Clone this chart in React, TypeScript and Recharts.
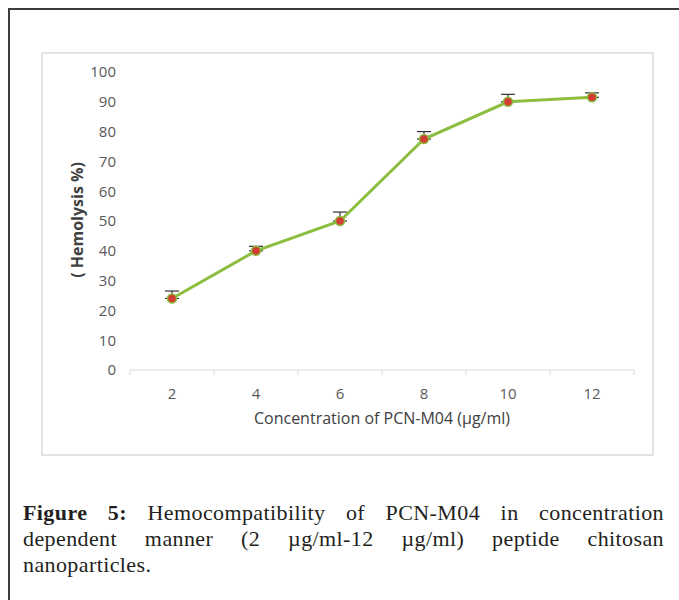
import * as React from 'react';
import { LineChart, Line, XAxis, YAxis, ErrorBar, Label } from 'recharts';

const concentrations = [2, 4, 6, 8, 10, 12];
const hemolysis = [24, 40, 50, 77.5, 90, 91.5];
const errorUp = [2.5, 1.5, 3, 2.5, 2.5, 1.5];
const yTicks = [0, 10, 20, 30, 40, 50, 60, 70, 80, 90, 100];
const xTicks = [1, 2, 3, 4, 5, 6, 7, 8, 9, 10, 11, 12, 13];

const data = concentrations.map((c, i) => ({
  conc: c,
  hemolysis: hemolysis[i],
  err: [0, errorUp[i]],
}));

const axisFont = '"Open Sans", sans-serif';

function XTick(props: any) {
  const { x, y, payload } = props;
  // odd values sit between categories: draw a short tick there, label the even ones
  if (payload.value % 2 === 1) {
    return <line x1={x} x2={x} y1={y - 18} y2={y - 13} stroke="#d9d9d9" strokeWidth={1} />;
  }
  return (
    <text x={x} y={y} dy="0.71em" textAnchor="middle" fill="#595959" fontSize={15} fontFamily={axisFont}>
      {payload.value}
    </text>
  );
}

export default function App() {
  return (
    <div style={{ position: 'absolute', left: 0, top: 0, width: 679, height: 600, overflow: 'hidden', background: '#fff' }}>
      <div
        style={{
          position: 'absolute',
          left: 8,
          top: 8,
          width: 700,
          height: 620,
          borderLeft: '2px solid #3c3c3c',
          borderTop: '2px solid #3c3c3c',
        }}
      />
      <div
        style={{
          position: 'absolute',
          left: 41,
          top: 52,
          width: 609,
          height: 400,
          border: '2px solid #e4e4e4',
        }}
      />
      <div style={{ position: 'absolute', left: 0, top: 0 }}>
        <LineChart width={679} height={600} data={data} margin={{ top: 72, right: 45, left: 0, bottom: 170 }}>
          <YAxis
            width={130}
            domain={[0, 100]}
            ticks={yTicks}
            interval={0}
            axisLine={false}
            tickLine={false}
            tickMargin={8}
            tick={{ fill: '#595959', fontSize: 15, fontFamily: axisFont }}
          >
            <Label
              content={({ viewBox }: any) => (
                <text
                  x={viewBox.x + 77}
                  y={220}
                  transform={`rotate(-90, ${viewBox.x + 77}, 220)`}
                  textAnchor="middle"
                  dominantBaseline="central"
                  fill="#404040"
                  fontSize={16}
                  fontWeight="bold"
                  fontFamily={axisFont}
                >
                  ( Hemolysis %)
                </text>
              )}
            />
          </YAxis>
          <XAxis
            dataKey="conc"
            type="number"
            domain={[1, 13]}
            ticks={xTicks}
            interval={0}
            height={60}
            tickSize={5}
            tickMargin={13}
            tickLine={false}
            axisLine={{ stroke: '#d9d9d9', strokeWidth: 1 }}
            tick={<XTick />}
          >
            <Label
              content={({ viewBox }: any) => (
                <text
                  x={viewBox.x + viewBox.width / 2}
                  y={viewBox.y + 54}
                  textAnchor="middle"
                  fill="#404040"
                  fontSize={16}
                  fontFamily={axisFont}
                >
                  Concentration of PCN-M04 (µg/ml)
                </text>
              )}
            />
          </XAxis>
          <Line
            dataKey="hemolysis"
            stroke="#8dbd3f"
            strokeWidth={3}
            isAnimationActive={false}
            dot={{ r: 4.5, fill: '#d23c35', stroke: '#8dbd3f', strokeWidth: 1.5 }}
            activeDot={false}
          >
            <ErrorBar dataKey="err" direction="y" width={7} stroke="#333" strokeWidth={1.2} />
          </Line>
        </LineChart>
      </div>
      <div
        style={{
          position: 'absolute',
          left: 23,
          top: 500,
          width: 641,
          fontFamily: '"Liberation Serif", serif',
          fontSize: 22,
          letterSpacing: 0.4,
          lineHeight: '26px',
          color: '#231f20',
        }}
      >
        <div style={{ textAlign: 'justify', textAlignLast: 'justify' }}>
          <b>Figure 5:</b> Hemocompatibility of PCN-M04 in concentration
        </div>
        <div style={{ textAlign: 'justify', textAlignLast: 'justify' }}>
          dependent manner (2 µg/ml-12 µg/ml) peptide chitosan
        </div>
        <div>nanoparticles.</div>
      </div>
    </div>
  );
}
